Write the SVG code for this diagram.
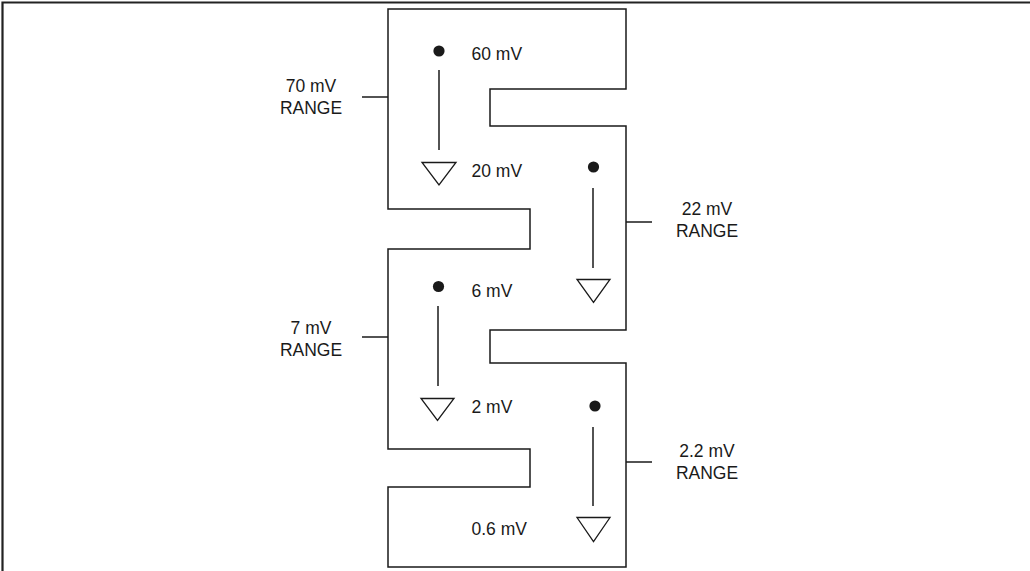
<svg xmlns="http://www.w3.org/2000/svg" width="1030" height="571" viewBox="0 0 1030 571">
  <defs>
    <style>
      .ln { fill: none; stroke: #1a1a1a; stroke-width: 1.5; }
      .fr { fill: none; stroke: #222; stroke-width: 2.2; }
      .tri { fill: #fff; stroke: #1a1a1a; stroke-width: 1.3; }
      .dot { fill: #1a1a1a; }
      .t { font-family: "Liberation Sans", Arial, sans-serif; font-size: 17.5px; fill: #1a1a1a; }
      .c { text-anchor: middle; }
    </style>
  </defs>
  <rect width="1030" height="571" fill="#fff"/>
  <g id="frame">
    <path class="fr" d="M2.5,571 V2.5 H1030"/>
  </g>
  <g id="outline">
    <path class="ln" d="M388,9 H626 V89 H490 V126 H626 V330 H490 V363 H626 V567 H388 V487 H530 V449 H388 V249 H530 V209 H388 Z"/>
  </g>
  <g id="connectors">
    <line class="ln" x1="362" y1="97" x2="388" y2="97"/>
    <line class="ln" x1="626" y1="222" x2="652" y2="222"/>
    <line class="ln" x1="362" y1="337" x2="388" y2="337"/>
    <line class="ln" x1="626" y1="462" x2="652" y2="462"/>
    <line class="ln" x1="439" y1="70" x2="439" y2="150"/>
    <line class="ln" x1="593" y1="188" x2="593" y2="268"/>
    <line class="ln" x1="438" y1="306" x2="438" y2="386"/>
    <line class="ln" x1="593" y1="427" x2="593" y2="506"/>
  </g>
  <g id="range-70">
    <text class="t c" x="311" y="91.5">70 mV</text>
    <text class="t c" x="311" y="113.5">RANGE</text>
  </g>
  <g id="range-22">
    <text class="t c" x="707" y="215">22 mV</text>
    <text class="t c" x="707" y="237">RANGE</text>
  </g>
  <g id="range-7">
    <text class="t c" x="311" y="334">7 mV</text>
    <text class="t c" x="311" y="356">RANGE</text>
  </g>
  <g id="range-2.2">
    <text class="t c" x="707" y="457">2.2 mV</text>
    <text class="t c" x="707" y="478.5">RANGE</text>
  </g>
  <g id="pt-60">
    <circle class="dot" cx="439" cy="51" r="5.6"/>
    <text class="t" x="471.5" y="60">60 mV</text>
  </g>
  <g id="pt-20">
    <polygon class="tri" points="422,162.5 456,162.5 439,185"/>
    <text class="t" x="471.5" y="176.5">20 mV</text>
  </g>
  <g id="pt-22-top">
    <circle class="dot" cx="593.5" cy="167" r="5.6"/>
  </g>
  <g id="pt-22-bot">
    <polygon class="tri" points="577,279.5 610,279.5 593.5,302.5"/>
  </g>
  <g id="pt-6">
    <circle class="dot" cx="438.5" cy="286.5" r="5.6"/>
    <text class="t" x="471.5" y="297">6 mV</text>
  </g>
  <g id="pt-2">
    <polygon class="tri" points="421,398.5 454,398.5 437.5,420.5"/>
    <text class="t" x="471.5" y="413">2 mV</text>
  </g>
  <g id="pt-2.2-top">
    <circle class="dot" cx="595" cy="406" r="5.6"/>
  </g>
  <g id="pt-0.6">
    <polygon class="tri" points="577,517.5 610,517.5 593.5,541.5"/>
    <text class="t" x="471.5" y="535">0.6 mV</text>
  </g>
</svg>
